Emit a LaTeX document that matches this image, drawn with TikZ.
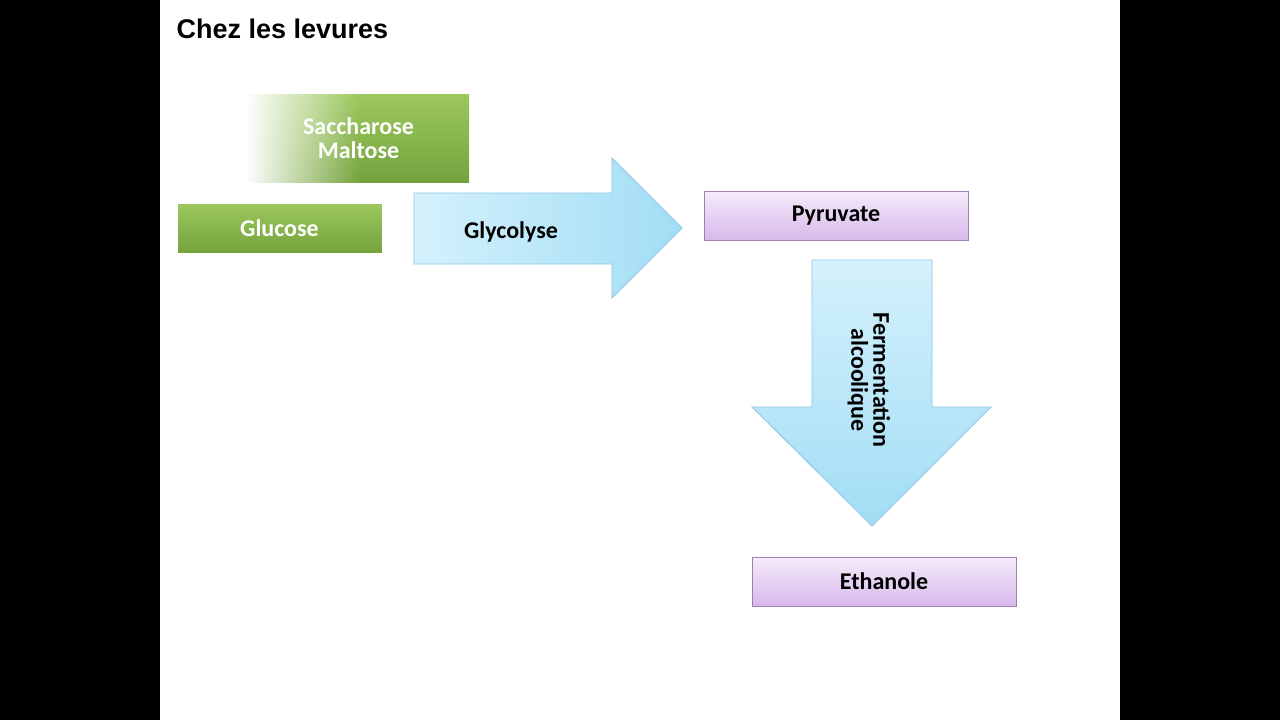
\documentclass[tikz,border=0pt]{standalone}
\usepackage{fontspec}
\setmainfont{Carlito}
\newfontfamily\arialf{Liberation Sans}
\usetikzlibrary{fadings}
\definecolor{grT}{HTML}{9CC85E}\definecolor{grB}{HTML}{74A23C}
\definecolor{grE}{HTML}{5E8A2C}
\definecolor{blT}{HTML}{D4F1FC}\definecolor{blB}{HTML}{A2DDF5}
\definecolor{blE}{HTML}{8CC8E2}
\definecolor{lvT}{HTML}{F6ECFB}\definecolor{lvB}{HTML}{D7B8EA}
\definecolor{lvE}{HTML}{9E7FB4}
\tikzset{
 txt/.style={font=\bfseries\fontsize{24}{26}\selectfont},
 green/.style={draw=grE,line width=1pt,top color=grT,bottom color=grB},
 lav/.style={draw=lvE,line width=0.8pt,top color=lvT,bottom color=lvB},
 blue/.style={draw=blE,line width=0.8pt,top color=blT,bottom color=blB},
}
\begin{document}
\begin{tikzpicture}[x=1pt,y=-1pt]
\fill[black] (0,0) rectangle (1280,720);
\fill[white] (160,0) rectangle (1120,720);
\node[anchor=west,font=\arialf\bfseries\fontsize{27}{30}\selectfont] (title) at (173,29) {Chez les levures};
% Saccharose / Maltose
\fill[top color=grT,bottom color=grB] (248,94) rectangle (469,182);
\node[txt,white,align=center] (sm) at (358.5,138) {Saccharose\\[-2pt]Maltose};
\fill[white,path fading=east] (246,92) rectangle (360,184);
% Glucose
\node[green,txt,white,minimum width=205,minimum height=50,inner sep=0] (glu) at (279.5,228) {Glucose};
% Glycolyse arrow
\path[blue,left color=blT,right color=blB] (414,193) -- (612,193) -- (612,158) -- (682,228) -- (612,298) -- (612,264) -- (414,264) -- cycle;
\node[txt] (gly) at (511,232) {Glycolyse};
% Pyruvate
\node[lav,txt,minimum width=264,minimum height=49,inner sep=0] (pyr) at (836,215.5) {Pyruvate};
% Fermentation arrow
\path[blue] (812,260) -- (932,260) -- (932,407) -- (991,407) -- (872,526) -- (752,407) -- (812,407) -- cycle;
\node[txt,rotate=-90,align=center] (fer) at (869,380) {Fermentation\\[-4pt]alcoolique};
% Ethanole
\node[lav,txt,minimum width=264,minimum height=49,inner sep=0] (eth) at (884,581.5) {Ethanole};
\end{tikzpicture}
\end{document}
